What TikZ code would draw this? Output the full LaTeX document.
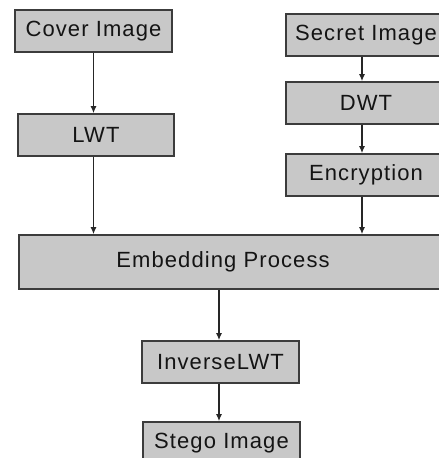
\documentclass[tikz,border=0pt]{standalone}
\usepackage{fontspec}
\setmainfont{Liberation Sans}[LetterSpace=5]
\usetikzlibrary{arrows.meta}
\definecolor{boxfill}{RGB}{200,200,200}
\definecolor{boxline}{RGB}{60,60,60}
\definecolor{txt}{RGB}{20,20,20}
\tikzset{
  blk/.style={draw=boxline, line width=1.6pt, fill=boxfill, minimum height=42pt,
    inner sep=0pt, text=txt, font=\fontsize{22}{25}\selectfont},
  flow/.style={draw=black!85, line width=1.3pt, -{Latex[length=7pt,width=6pt]}}
}
\begin{document}
\begin{tikzpicture}[x=1pt,y=-1pt]
\useasboundingbox (0,0) rectangle (439,458);
\node[blk, minimum width=157pt] (cover) at (93.5,31) {Cover Image};
\node[blk, minimum width=156pt] (lwt) at (96,135) {LWT};
\node[blk, minimum width=160pt] (secret) at (366,35) {Secret Image};
\node[blk, minimum width=160pt] (dwt) at (366,103) {DWT};
\node[blk, minimum width=160pt] (enc) at (366,175) {Encryption};
\node[blk, minimum width=426pt, minimum height=54pt] (emb) at (232,262) {\hspace*{-18pt}Embedding Process};
\node[blk, minimum width=157pt] (inv) at (220.5,362) {InverseLWT};
\node[blk, minimum width=157pt] (stego) at (221.5,443) {Stego Image};
\coordinate (rx) at (362,0);
\coordinate (cx) at (219,0);
\draw[flow] (cover.south) -- (cover.south |- lwt.north);
\draw[flow] (lwt.south -| cover.south) -- (cover.south |- emb.north);
\draw[flow] (secret.south -| rx) -- (dwt.north -| rx);
\draw[flow] (dwt.south -| rx) -- (enc.north -| rx);
\draw[flow] (enc.south -| rx) -- (emb.north -| rx);
\draw[flow] (emb.south -| cx) -- (inv.north -| cx);
\draw[flow] (inv.south -| cx) -- (stego.north -| cx);
\end{tikzpicture}
\end{document}
